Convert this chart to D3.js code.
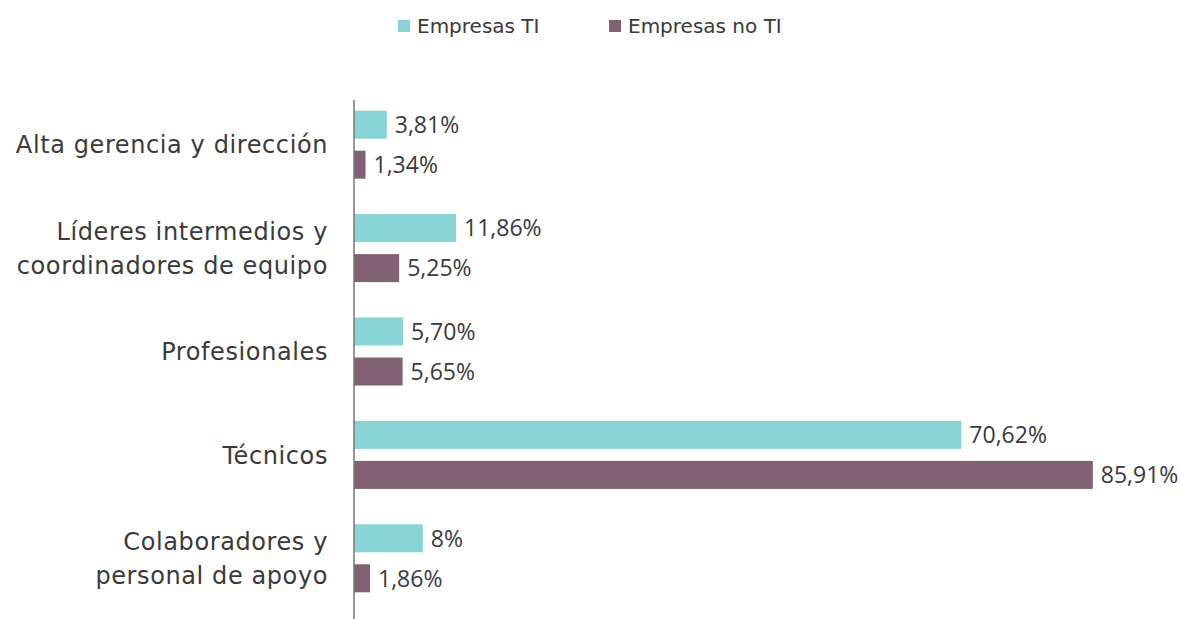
<!DOCTYPE html>
<html>
<head>
<meta charset="utf-8">
<script src="https://cdn.jsdelivr.net/npm/d3@7"></script>
<style>
  html, body { margin: 0; padding: 0; background: #fff; }
  svg { display: block; font-family: "DejaVu Sans", "Open Sans", sans-serif; }
  .val { font-family: "Open Sans", "DejaVu Sans", sans-serif; }
</style>
</head>
<body>
<svg id="chart" width="1180" height="619"></svg>
<script>
// Categories (two-line labels split with "\n")
const categories = [
  "Alta gerencia y dirección",
  "Líderes intermedios y\ncoordinadores de equipo",
  "Profesionales",
  "Técnicos",
  "Colaboradores y\npersonal de apoyo"
];
const seriesNames = ["Empresas TI", "Empresas no TI"];
const empresasTI   = [3.81, 11.86, 5.70, 70.62, 8];
const empresasNoTI = [1.34, 5.25, 5.65, 85.91, 1.86];
const valueLabelsTI   = ["3,81%", "11,86%", "5,70%", "70,62%", "8%"];
const valueLabelsNoTI = ["1,34%", "5,25%", "5,65%", "85,91%", "1,86%"];
const colors = ["#88d3d5", "#836174"];

const svg = d3.select("#chart");
const width = 1180, height = 619;
const margin = { left: 354 };

const x = d3.scaleLinear().domain([0, 100]).range([margin.left, margin.left + 860]);
const y0 = d3.scaleBand().domain(categories).range([93, 610]);
const y1 = d3.scaleBand().domain(seriesNames).range([0, 68]).paddingInner(0.3);

const rows = categories.map((c, i) => ({
  cat: c,
  vals: [
    { s: seriesNames[0], v: empresasTI[i], label: valueLabelsTI[i], color: colors[0] },
    { s: seriesNames[1], v: empresasNoTI[i], label: valueLabelsNoTI[i], color: colors[1] }
  ]
}));

const groups = svg.selectAll("g.group")
  .data(rows)
  .join("g")
  .attr("class", "group")
  .attr("transform", d => `translate(0, ${y0(d.cat) + (y0.bandwidth() - 68) / 2})`);

groups.selectAll("rect")
  .data(d => d.vals)
  .join("rect")
  .attr("x", x(0))
  .attr("y", d => y1(d.s))
  .attr("width", d => x(d.v) - x(0))
  .attr("height", y1.bandwidth())
  .attr("fill", d => d.color);

groups.selectAll("text.val")
  .data(d => d.vals)
  .join("text")
  .attr("class", "val")
  .attr("x", d => x(d.v) + 8)
  .attr("y", d => y1(d.s) + y1.bandwidth() / 2)
  .attr("dy", "0.36em")
  .attr("font-size", 23)
  .attr("fill", "#3a3a3a")
  .text(d => d.label);

// Category labels
groups.each(function(d) {
  const lines = d.cat.split("\n");
  const g = d3.select(this);
  const lh = 34;
  const mid = 34;
  const t = g.append("text")
    .attr("text-anchor", "end")
    .attr("font-size", 24)
    .attr("letter-spacing", 0.6)
    .attr("fill", "#3a3a3a");
  lines.forEach((ln, i) => {
    t.append("tspan")
      .attr("x", margin.left - 26)
      .attr("y", mid + (i - (lines.length - 1) / 2) * lh)
      .attr("dy", "0.36em")
      .text(ln);
  });
});

// Vertical axis line
svg.append("line")
  .attr("x1", x(0)).attr("x2", x(0))
  .attr("y1", 100).attr("y2", height)
  .attr("stroke", "#777")
  .attr("stroke-width", 1.5);

// Legend
const legendX = [398, 609];
const legend = svg.selectAll("g.legend")
  .data(seriesNames)
  .join("g")
  .attr("class", "legend")
  .attr("transform", (d, i) => `translate(${legendX[i]}, 20)`);
legend.append("rect")
  .attr("width", 12).attr("height", 12)
  .attr("fill", (d, i) => colors[i]);
legend.append("text")
  .attr("x", 19).attr("y", 6)
  .attr("dy", "0.36em")
  .attr("font-size", 20)
  .attr("fill", "#3a3a3a")
  .text(d => d);
</script>
</body>
</html>
